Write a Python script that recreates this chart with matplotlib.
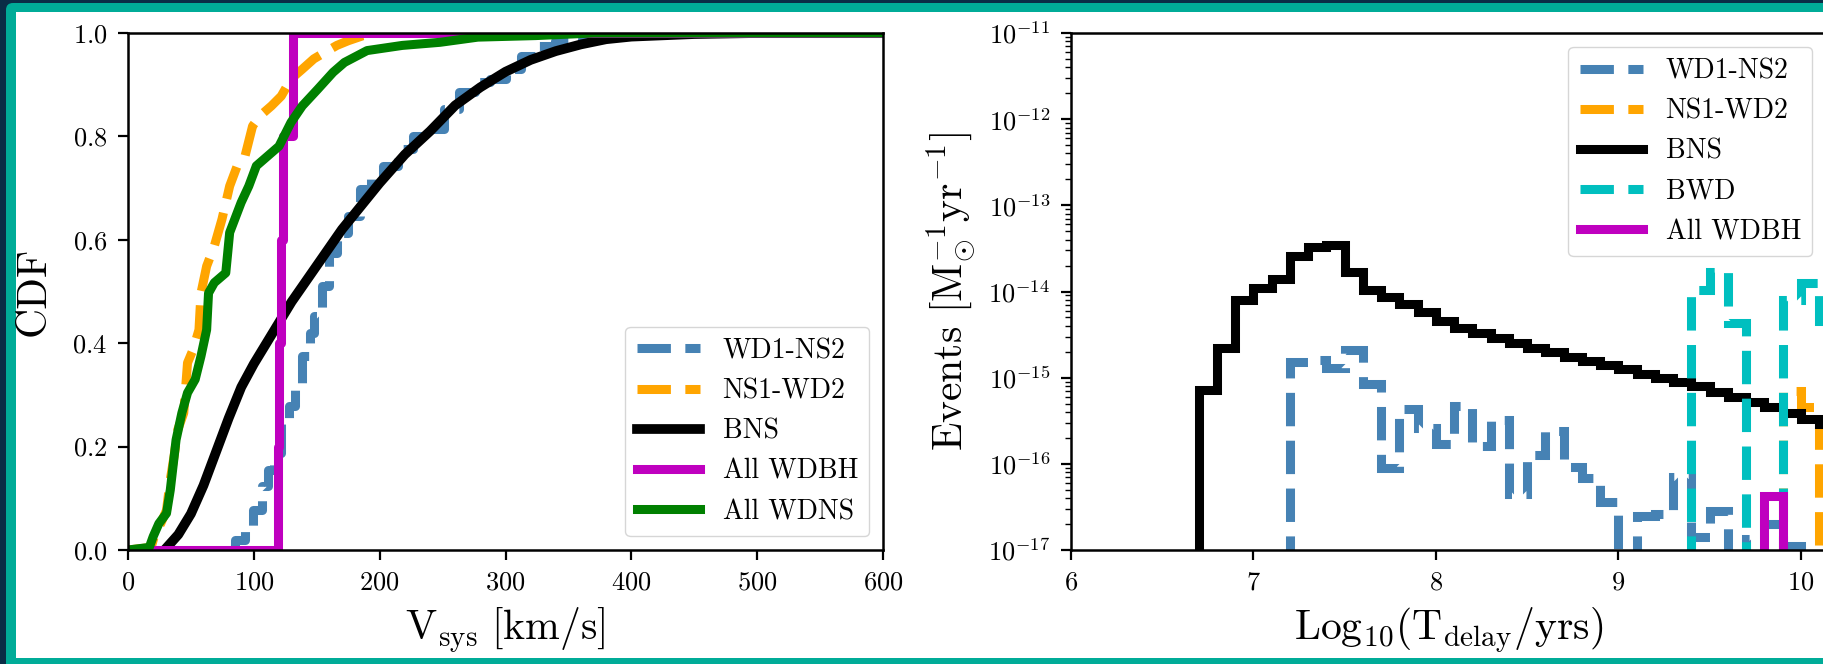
import numpy as np
import matplotlib
matplotlib.use('Agg')
import matplotlib.pyplot as plt
from matplotlib.patches import FancyBboxPatch, Rectangle

# Computer Modern look for all text
plt.rcParams['font.family'] = 'cmr10'
plt.rcParams['mathtext.fontset'] = 'cm'
plt.rcParams['axes.formatter.use_mathtext'] = True

# ---------------- Left panel: CDF of systemic velocities (km/s) ----------------
wdns2_v = [80.8, 85, 93, 99, 106.6, 111, 115.8, 121.8, 128, 132.5, 138.5, 144.7, 147.7,
           153.8, 160, 166, 175, 184, 193, 202.5, 214.6, 226.7, 239, 251, 263, 275.5,
           287.7, 300, 312, 324, 339, 360.6, 372, 600]
wdns2_cdf = [0.0, 0.02, 0.045, 0.077, 0.123, 0.155, 0.187, 0.245, 0.278, 0.323, 0.375, 0.42,
             0.452, 0.51, 0.575, 0.614, 0.646, 0.698, 0.717, 0.743, 0.775, 0.80, 0.814,
             0.853, 0.885, 0.905, 0.911, 0.93, 0.956, 0.975, 0.985, 0.989, 1.0, 1.0]

nswd2_v = [0, 18.4, 21.5, 26, 30.6, 33.6, 36.6, 39.6, 44.3, 47.3, 51.8, 56.4, 58, 62.5,
           68.6, 74.7, 80.8, 86.8, 93, 99, 105, 114, 121.8, 129.5, 138.5, 147.7, 156.7,
           166, 175, 187, 198, 600]
nswd2_cdf = [0.0, 0.005, 0.032, 0.051, 0.077, 0.136, 0.181, 0.233, 0.265, 0.362, 0.388,
             0.426, 0.497, 0.549, 0.588, 0.640, 0.704, 0.743, 0.762, 0.82, 0.84, 0.859,
             0.878, 0.911, 0.93, 0.95, 0.963, 0.976, 0.985, 0.995, 1.0, 1.0]

bns_v = [29, 40, 50, 60, 70, 80, 90, 100, 110, 120, 130, 140, 150, 160, 170, 180, 200,
         220, 240, 260, 280, 300, 320, 340, 360, 380, 400, 450, 500, 600]
bns_cdf = [0.0, 0.03, 0.07, 0.125, 0.19, 0.255, 0.315, 0.36, 0.40, 0.44, 0.48, 0.515,
           0.55, 0.585, 0.62, 0.65, 0.71, 0.765, 0.81, 0.86, 0.895, 0.925, 0.948, 0.965,
           0.978, 0.988, 0.993, 0.998, 1.0, 1.0]

wdbh_v = [0, 119, 120, 121.5, 123, 131, 600]
wdbh_cdf = [0.0, 0.2, 0.4, 0.6, 0.8, 1.0, 1.0]

wdns_v = [0, 16.9, 20, 24.5, 30.6, 33.6, 38.2, 42.8, 47.3, 53.4, 58, 62.5, 64, 68.6, 77.7,
          80.8, 89.9, 96, 102, 111, 120, 129.5, 138.5, 150.7, 163, 172, 190, 218, 248,
          278, 324, 370, 600]
wdns_cdf = [0.0, 0.005, 0.026, 0.051, 0.071, 0.116, 0.213, 0.265, 0.304, 0.33, 0.375,
            0.426, 0.497, 0.517, 0.536, 0.614, 0.672, 0.704, 0.743, 0.762, 0.781, 0.827,
            0.859, 0.891, 0.924, 0.943, 0.966, 0.976, 0.982, 0.992, 0.995, 1.0, 1.0]

# ---------------- Right panel: delay-time histograms (0.1 dex bins) ----------------
bin_width = 0.1

wdns2_start = 7.2
wdns2_rate = [1.5e-15, 1.6e-15, 1.3e-15, 2.1e-15, 8.5e-16, 8.9e-17, 4.3e-16, 2.6e-16,
              1.7e-16, 4.7e-16, 1.6e-16, 3.2e-16, 4.5e-17, 1.26e-16, 2.4e-16, 9.3e-17,
              6.8e-17, 3.6e-17, 0.0, 2.5e-17, 2.6e-17, 7e-17, 1.4e-17, 2.8e-17, 0.0,
              1.35e-17, 2e-17, 1.1e-17]

nswd2_start = 9.9
nswd2_rate = [7e-16, 4.6e-16]

bns_start = 6.7
bns_rate = [7.2e-16, 2.2e-15, 8e-15, 1.1e-14, 1.4e-14, 2.6e-14, 3.3e-14, 3.5e-14, 1.7e-14,
            1.05e-14, 8.7e-15, 7.2e-15, 5.8e-15, 4.6e-15, 3.8e-15, 3.3e-15, 2.9e-15,
            2.5e-15, 2.2e-15, 2.0e-15, 1.75e-15, 1.55e-15, 1.4e-15, 1.25e-15, 1.1e-15,
            1.0e-15, 8.9e-16, 8e-16, 6.9e-16, 6e-16, 5.2e-16, 4.6e-16, 3.9e-16, 3.3e-16,
            2.9e-16]

bwd_start = 9.4
bwd_rate = [1.05e-14, 1.7e-14, 4.3e-15, 0.0, 0.0, 8e-15, 1.26e-14, 4.6e-15]

wdbh_start = 9.8
wdbh_rate = [4.2e-17]

legend_left = ['WD1-NS2', 'NS1-WD2', 'BNS', 'All WDBH', 'All WDNS']
legend_right = ['WD1-NS2', 'NS1-WD2', 'BNS', 'BWD', 'All WDBH']


def edges(start, values):
    return start + bin_width * np.arange(len(values) + 1)


W, H = 1823, 664
fig = plt.figure(figsize=(W / 100, H / 100), dpi=100)
fig.patch.set_facecolor('#0a2d46')

# slide frame: teal rounded border with white card inside
frame = FancyBboxPatch((0.06, -0.3), 20, H / 100 - 0.03 + 0.3,
                       boxstyle='round,pad=0,rounding_size=0.07',
                       transform=fig.dpi_scale_trans, fc='#00ac98', ec='none', zorder=-10)
card = Rectangle((0.16, 0.06), 20, 6.46, transform=fig.dpi_scale_trans,
                 fc='white', ec='none', zorder=-9)
fig.add_artist(frame)
fig.add_artist(card)

ax1 = fig.add_axes([128 / W, 114 / H, 755 / W, 517 / H])
ax2 = fig.add_axes([1071 / W, 114 / H, 755 / W, 517 / H])

lw = 6.5
tick_fs = 19
label_fs = 30
legend_kw = dict(fontsize=20, handlelength=2.3)

# Left: cumulative distributions
ax1.plot(wdns2_v, wdns2_cdf, '--', color='steelblue', lw=lw, drawstyle='steps-post', label=legend_left[0])
ax1.plot(nswd2_v, nswd2_cdf, '--', color='orange', lw=lw, label=legend_left[1])
ax1.plot(bns_v, bns_cdf, '-', color='k', lw=lw + 0.5, label=legend_left[2])
ax1.plot(wdbh_v, wdbh_cdf, '-', color='m', lw=lw, drawstyle='steps-post', label=legend_left[3])
ax1.plot(wdns_v, wdns_cdf, '-', color='g', lw=lw, label=legend_left[4])
ax1.set_xlim(0, 600)
ax1.set_ylim(0, 1)
ax1.set_xticks(np.arange(0, 601, 100))
ax1.set_yticks(np.arange(0, 1.01, 0.2))
ax1.set_xlabel(r'$\mathrm{V_{sys}\ [km/s]}$', fontsize=label_fs, labelpad=8)
ax1.set_ylabel('CDF', fontsize=label_fs, labelpad=14)
ax1.legend(loc='lower right', **legend_kw)

# Right: merger rate per delay-time bin
ax2.stairs(wdns2_rate, edges(wdns2_start, wdns2_rate), color='steelblue', ls='--', lw=lw, label=legend_right[0])
ax2.stairs(nswd2_rate, edges(nswd2_start, nswd2_rate), color='orange', ls='--', lw=lw, label=legend_right[1])
ax2.stairs(bns_rate, edges(bns_start, bns_rate), color='k', ls='-', lw=lw, label=legend_right[2])
ax2.stairs(bwd_rate, edges(bwd_start, bwd_rate), color='c', ls='--', lw=lw, label=legend_right[3])
ax2.stairs(wdbh_rate, edges(wdbh_start, wdbh_rate), color='m', ls='-', lw=lw, label=legend_right[4])
ax2.set_yscale('log')
ax2.set_xlim(6, 10.137)
ax2.set_ylim(1e-17, 1e-11)
ax2.set_xticks([6, 7, 8, 9, 10])
ax2.set_xlabel(r'$\mathrm{Log_{10}(T_{delay}/yrs)}$', fontsize=label_fs, labelpad=8)
ax2.set_ylabel(r'Events $[\mathrm{M_{\odot}^{-1}yr^{-1}}]$', fontsize=label_fs, labelpad=8)
ax2.legend(loc='upper right', **legend_kw)

for ax in (ax1, ax2):
    for sp in ax.spines.values():
        sp.set_linewidth(1.8)
    ax.tick_params(which='major', length=7, width=1.6, labelsize=tick_fs, pad=8)
    ax.tick_params(which='minor', length=4, width=1.0)

fig.savefig('out.png', dpi=100, facecolor=fig.get_facecolor())
